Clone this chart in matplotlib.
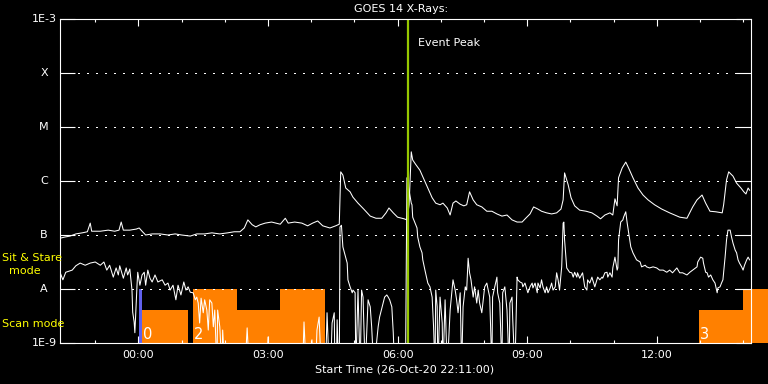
import numpy as np
import matplotlib.pyplot as plt
from matplotlib.patches import Rectangle

# time axis: minutes after start time 26-Oct-20 22:11:00
start_time = "26-Oct-20 22:11:00"

# long channel (1-8 A), log10 flux in W/m^2
long_t = [0, 6, 14, 22, 31, 38, 42, 44, 56, 67, 76, 82, 85, 88, 97, 106, 110, 114, 119, 128,
          139, 150, 160, 169, 181, 190, 201, 211, 222, 233, 242, 250, 256, 261, 267, 272, 278, 285, 294, 306,
          313, 317, 326, 336, 344, 351, 358, 365, 375, 383, 388, 390, 393, 397, 403, 407, 414, 422, 431, 439,
          447, 453, 457, 463, 469, 478, 482, 485, 488, 490, 494, 500, 506, 511, 517, 522, 528, 532, 538, 542,
          546, 550, 556, 561, 565, 569, 574, 579, 586, 593, 600, 607, 614, 621, 628, 635, 642, 647, 653, 658,
          664, 669, 676, 683, 690, 696, 699, 701, 706, 710, 715, 722, 731, 739, 746, 751, 757, 764, 768, 771,
          774, 776, 781, 786, 790, 796, 803, 810, 817, 826, 836, 847, 861, 871, 879, 885, 892, 897, 903, 911,
          920, 922, 926, 929, 935, 940, 946, 950, 953, 956, 958]
long_log = [-7.06, -7.04, -7.02, -6.98, -6.96, -6.94, -6.78, -6.93, -6.93, -6.91, -6.93, -6.91, -6.76, -6.91, -6.91, -6.89, -6.87, -6.93, -7.00, -6.98,
            -6.98, -7.00, -6.98, -7.00, -7.02, -6.98, -6.98, -6.96, -6.98, -6.96, -6.94, -6.94, -6.87, -6.72, -6.81, -6.85, -6.81, -6.78, -6.76, -6.80,
            -6.69, -6.78, -6.76, -6.78, -6.83, -6.78, -6.74, -6.83, -6.87, -6.83, -6.80, -5.83, -5.89, -6.13, -6.20, -6.30, -6.41, -6.52, -6.65, -6.69,
            -6.69, -6.59, -6.50, -6.59, -6.67, -6.70, -6.72, -6.44, -5.46, -5.61, -5.69, -5.80, -5.98, -6.13, -6.31, -6.41, -6.44, -6.41, -6.50, -6.63,
            -6.41, -6.37, -6.43, -6.46, -6.44, -6.20, -6.35, -6.44, -6.48, -6.56, -6.56, -6.61, -6.65, -6.63, -6.72, -6.76, -6.76, -6.69, -6.61, -6.48,
            -6.52, -6.56, -6.59, -6.61, -6.59, -6.52, -6.35, -5.85, -6.07, -6.31, -6.46, -6.54, -6.56, -6.59, -6.65, -6.70, -6.63, -6.59, -6.63, -6.33,
            -6.46, -5.94, -5.76, -5.65, -5.76, -5.94, -6.13, -6.26, -6.35, -6.44, -6.52, -6.59, -6.67, -6.69, -6.48, -6.35, -6.26, -6.41, -6.56, -6.57,
            -6.59, -6.44, -5.98, -5.83, -5.91, -6.04, -6.13, -6.20, -6.24, -6.13, -6.17]

# short channel (0.5-4 A), log10 flux; -9.5 marks values below the plot floor
short_t = [0, 4, 8, 17, 22, 28, 35, 42, 49, 56, 61, 65, 69, 74, 78, 81, 83, 88, 92, 94,
           97, 100, 101, 103, 104, 106, 107, 108, 111, 114, 117, 119, 122, 125, 128, 132, 136, 142, 146, 150,
           153, 157, 161, 164, 168, 172, 175, 178, 181, 185, 188, 190, 192, 194, 196, 199, 201, 204, 206, 208,
           211, 213, 215, 218, 219, 222, 225, 226, 229, 257, 260, 263, 287, 289, 292, 337, 339, 342, 348, 350,
           352, 355, 357, 360, 363, 369, 371, 374, 376, 378, 381, 382, 384, 385, 387, 388, 389, 391, 393, 396,
           399, 400, 403, 406, 407, 410, 411, 414, 417, 419, 421, 424, 428, 431, 433, 436, 442, 444, 449, 451,
           454, 456, 458, 461, 463, 465, 476, 480, 481, 482, 485, 488, 489, 490, 496, 497, 500, 503, 504, 507,
           510, 511, 514, 517, 518, 519, 521, 522, 524, 525, 528, 531, 532, 535, 538, 542, 546, 549, 551, 553,
           556, 558, 560, 563, 565, 567, 569, 571, 574, 576, 579, 581, 583, 586, 588, 590, 593, 594, 597, 600,
           601, 604, 607, 608, 611, 614, 615, 618, 621, 624, 625, 628, 629, 632, 635, 636, 639, 642, 643, 646,
           649, 650, 653, 656, 657, 660, 663, 664, 667, 669, 671, 674, 676, 678, 681, 683, 685, 688, 690, 692,
           694, 697, 699, 700, 701, 704, 706, 708, 711, 713, 715, 718, 719, 722, 726, 729, 732, 733, 736, 739,
           740, 743, 746, 747, 750, 753, 754, 757, 760, 761, 764, 767, 768, 771, 774, 775, 776, 779, 782, 783,
           786, 788, 790, 793, 796, 799, 801, 806, 808, 813, 815, 819, 824, 829, 833, 838, 843, 847, 851, 857,
           861, 865, 871, 875, 879, 885, 886, 890, 893, 894, 897, 899, 901, 904, 907, 910, 913, 914, 917, 919,
           921, 924, 926, 928, 931, 933, 935, 938, 940, 942, 944, 947, 949, 951, 954, 956, 958]
short_log = [-7.69, -7.83, -7.69, -7.65, -7.57, -7.52, -7.56, -7.52, -7.50, -7.56, -7.50, -7.65, -7.56, -7.78, -7.61, -7.74, -7.57, -7.80, -7.61, -7.74,
             -7.63, -8.02, -8.43, -8.61, -8.81, -8.20, -7.93, -7.69, -7.93, -7.74, -7.69, -7.93, -7.65, -7.80, -7.87, -7.74, -7.87, -7.83, -7.93, -7.89,
             -8.02, -7.93, -8.20, -7.93, -8.11, -7.87, -8.02, -7.96, -8.06, -8.07, -8.20, -8.15, -8.26, -8.63, -8.17, -8.44, -8.20, -8.39, -8.76, -8.20,
             -8.26, -8.70, -8.39, -9.50, -8.39, -8.70, -9.50, -8.76, -9.50, -9.50, -8.72, -9.50, -9.50, -8.89, -9.50, -9.50, -8.61, -9.50, -9.50, -8.94,
             -9.50, -9.50, -8.76, -8.52, -9.50, -9.50, -8.44, -9.50, -9.50, -8.63, -8.44, -9.50, -9.50, -8.57, -9.50, -9.50, -6.85, -6.82, -7.22, -7.37,
             -7.52, -7.83, -7.96, -8.07, -8.02, -8.07, -9.50, -8.02, -9.50, -8.02, -8.15, -9.50, -8.20, -8.33, -8.70, -9.50, -8.70, -8.52, -8.26, -8.15,
             -8.11, -8.15, -8.20, -8.33, -8.81, -9.50, -9.50, -9.50, -7.70, -5.94, -6.17, -6.41, -6.44, -6.67, -6.87, -7.04, -7.22, -7.33, -7.46, -7.65,
             -7.83, -7.89, -7.96, -8.15, -8.44, -8.70, -9.50, -8.02, -8.33, -9.50, -8.15, -8.63, -9.50, -8.20, -9.50, -8.39, -7.83, -8.02, -8.20, -8.44,
             -8.07, -9.50, -8.33, -7.96, -8.02, -7.43, -7.70, -7.83, -8.15, -7.96, -8.26, -8.02, -8.26, -8.44, -8.20, -7.96, -7.89, -7.96, -8.15, -9.50,
             -8.15, -7.96, -7.78, -8.07, -8.26, -9.50, -8.07, -7.96, -8.39, -9.50, -8.26, -8.15, -8.57, -9.50, -7.78, -7.83, -7.87, -7.89, -7.96, -7.89,
             -8.02, -8.07, -7.96, -7.89, -7.98, -7.89, -8.07, -7.89, -7.98, -7.83, -7.96, -8.07, -7.96, -8.07, -7.98, -7.89, -8.02, -7.96, -7.70, -7.83,
             -8.02, -7.59, -6.78, -6.76, -7.09, -7.61, -7.65, -7.69, -7.70, -7.78, -7.69, -7.78, -7.70, -7.80, -7.70, -7.96, -8.02, -7.83, -7.89, -7.78,
             -7.83, -7.96, -7.83, -7.78, -7.83, -7.78, -7.80, -7.70, -7.69, -7.78, -7.70, -7.78, -7.61, -7.41, -7.65, -7.61, -7.09, -6.76, -6.72, -6.67,
             -6.57, -6.78, -6.96, -7.22, -7.33, -7.41, -7.46, -7.50, -7.59, -7.56, -7.59, -7.61, -7.59, -7.61, -7.65, -7.65, -7.69, -7.65, -7.70, -7.61,
             -7.70, -7.70, -7.74, -7.69, -7.65, -7.59, -7.50, -7.41, -7.43, -7.52, -7.69, -7.70, -7.78, -7.74, -7.83, -7.89, -8.07, -7.98, -7.96, -7.89,
             -7.83, -7.41, -7.09, -6.91, -6.91, -7.04, -7.15, -7.28, -7.33, -7.46, -7.52, -7.59, -7.65, -7.56, -7.46, -7.41, -7.46]

class_labels = ["1E-9", "A", "B", "C", "M", "X", "1E-3"]
class_flux = [1e-9, 1e-8, 1e-7, 1e-6, 1e-5, 1e-4, 1e-3]

tick_labels = ["00:00", "03:00", "06:00", "09:00", "12:00"]
tick_minutes = [109, 289, 469, 649, 829]

event_peak = 483

# instrument modes (minutes after start)
scan_start = [114, 246, 888]
scan_end = [178, 306, 949]
stare_start = [185, 306, 949]
stare_end = [246, 368, 990]
scan_ids = ["0", "2", "3"]
scan_id_t = [115, 186, 889]
blue_start, blue_end = 110, 114

orange = "#ff8000"
yellow = "#ffff00"
fs = 8

fig = plt.figure(figsize=(7.68, 3.84), dpi=100, facecolor="black")
ax = fig.add_axes([60 / 768, 41 / 384, 691 / 768, 324 / 384])
ax.set_facecolor("black")
ax.set_yscale("log")
ax.set_xlim(0, 960)
ax.set_ylim(1e-9, 1e-3)

# mode bars (drawn first, curves on top)
for s, e in zip(scan_start, scan_end):
    ax.add_patch(Rectangle((s, 1e-9), e - s, 4.08e-9 - 1e-9, color=orange, lw=0, clip_on=False, zorder=1))
for s, e in zip(stare_start, stare_end):
    ax.add_patch(Rectangle((s, 1e-9), e - s, 1e-8 - 1e-9, color=orange, lw=0, clip_on=False, zorder=1))
ax.add_patch(Rectangle((blue_start, 1e-9), blue_end - blue_start, 1e-8 - 1e-9, color="#6060ee", lw=0, zorder=1))
for lab, t in zip(scan_ids, scan_id_t):
    ax.text(t, 1.19e-9, lab, color="white", fontsize=10.5, ha="left", va="baseline", zorder=2)

# grid
for f in class_flux[1:-1]:
    ax.axhline(f, color="white", lw=0.8, ls=(0, (1.2, 6.3)), antialiased=False, zorder=1.5)

ax.plot(long_t, 10 ** np.array(long_log), color="white", lw=0.75, zorder=3)
ax.plot(short_t, 10 ** np.array(short_log), color="white", lw=0.75, zorder=3)

ax.axvline(event_peak, color="#96c800", lw=1.6, zorder=4)
ax.text(event_peak + 14, 10 ** -3.5, "Event Peak", color="white", fontsize=fs, ha="left", va="baseline", zorder=5)

for sp in ax.spines.values():
    sp.set_color("white")
    sp.set_linewidth(0.8)
    sp.set_zorder(6)

ax.set_yticks(class_flux)
ax.set_yticklabels([])
ax.yaxis.set_minor_locator(plt.NullLocator())
ax.tick_params(axis="y", which="major", direction="in", length=10.5, width=0.8, color="white", left=True, right=True)
ax.set_xticks(tick_minutes)
ax.set_xticklabels(tick_labels, color="white", fontsize=fs)
ax.set_xticks(list(range(49, 960, 60)), minor=True)
ax.tick_params(axis="x", which="major", direction="in", length=4.7, width=0.8, color="white", top=True, bottom=True, pad=5)
ax.tick_params(axis="x", which="minor", direction="in", length=2.4, width=0.8, color="white", top=True, bottom=True)

# class labels on the left
trans = ax.get_yaxis_transform()
for lab, f in zip(class_labels, class_flux):
    if lab.startswith("1E"):
        ax.text(-3 / 691, f, lab, color="white", fontsize=fs, ha="right", va="center", transform=trans)
    else:
        ax.text(-16 / 691, f, lab, color="white", fontsize=fs, ha="center", va="center", transform=trans)

fig.text(2 / 768, 1 - 258 / 384, "Sit & Stare", color=yellow, fontsize=fs, ha="left", va="center")
fig.text(25 / 768, 1 - 271 / 384, "mode", color=yellow, fontsize=fs, ha="center", va="center")
fig.text(2 / 768, 1 - 324 / 384, "Scan mode", color=yellow, fontsize=fs, ha="left", va="center")

fig.text(401 / 768, 1 - 9 / 384, "GOES 14 X-Rays:", color="white", fontsize=fs, ha="center", va="center")
fig.text(405 / 768, 1 - 369 / 384, "Start Time (" + start_time + ")", color="white", fontsize=fs, ha="center", va="center")

fig.savefig("out.png", dpi=100, facecolor="black")
